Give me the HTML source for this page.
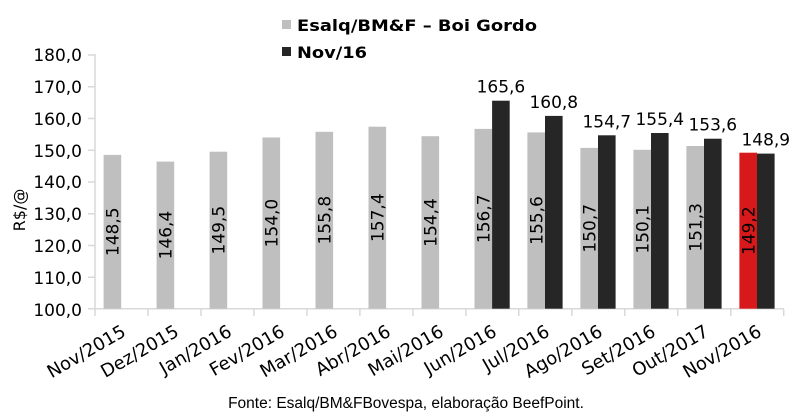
<!DOCTYPE html>
<html><head><meta charset="utf-8"><style>
body{margin:0;background:#fff;}
svg{display:block;font-family:"DejaVu Sans","Liberation Sans",sans-serif;}
</style></head><body>
<svg width="799" height="417" xmlns="http://www.w3.org/2000/svg">
<rect x="282" y="20" width="9" height="9" fill="#bfbfbf"/>
<text x="297" y="31" font-size="16" font-weight="bold" textLength="240" lengthAdjust="spacingAndGlyphs">Esalq/BM&amp;F – Boi Gordo</text>
<rect x="282" y="47" width="9" height="9" fill="#262626"/>
<text x="297" y="58" font-size="16" font-weight="bold" textLength="70" lengthAdjust="spacingAndGlyphs">Nov/16</text>
<text transform="translate(25,210) rotate(-90)" font-size="16" text-anchor="middle">R$/@</text>
<g font-size="17" text-anchor="end">
<text x="82" y="61">180,0</text><text x="82" y="93">170,0</text><text x="82" y="125">160,0</text><text x="82" y="157">150,0</text><text x="82" y="188">140,0</text><text x="82" y="220">130,0</text><text x="82" y="252">120,0</text><text x="82" y="284">110,0</text><text x="82" y="316">100,0</text>
</g>
<g stroke="#d9d9d9" stroke-width="1.5">
<line x1="95" y1="54" x2="95" y2="309"/><line x1="88" y1="308.7" x2="784" y2="308.7"/>
<line x1="88" y1="55" x2="95" y2="55"/><line x1="88" y1="86.8" x2="95" y2="86.8"/><line x1="88" y1="118.5" x2="95" y2="118.5"/><line x1="88" y1="150.3" x2="95" y2="150.3"/><line x1="88" y1="182" x2="95" y2="182"/><line x1="88" y1="213.8" x2="95" y2="213.8"/><line x1="88" y1="245.5" x2="95" y2="245.5"/><line x1="88" y1="277.3" x2="95" y2="277.3"/>
<line x1="95" y1="309" x2="95" y2="316"/><line x1="148" y1="309" x2="148" y2="316"/><line x1="201" y1="309" x2="201" y2="316"/><line x1="253.9" y1="309" x2="253.9" y2="316"/><line x1="306.9" y1="309" x2="306.9" y2="316"/><line x1="359.9" y1="309" x2="359.9" y2="316"/><line x1="412.9" y1="309" x2="412.9" y2="316"/><line x1="465.9" y1="309" x2="465.9" y2="316"/><line x1="518.8" y1="309" x2="518.8" y2="316"/><line x1="571.8" y1="309" x2="571.8" y2="316"/><line x1="624.8" y1="309" x2="624.8" y2="316"/><line x1="677.8" y1="309" x2="677.8" y2="316"/><line x1="730.8" y1="309" x2="730.8" y2="316"/><line x1="783.7" y1="309" x2="783.7" y2="316"/>
</g>
<g fill="#bfbfbf">
<rect x="103.6" y="154.9" width="17.6" height="153.8"/>
<rect x="156.6" y="161.6" width="17.6" height="147.1"/>
<rect x="209.6" y="151.7" width="17.6" height="157"/>
<rect x="262.5" y="137.5" width="17.6" height="171.2"/>
<rect x="315.5" y="131.8" width="17.6" height="176.9"/>
<rect x="368.5" y="126.7" width="17.6" height="182"/>
<rect x="421.5" y="136.2" width="17.6" height="172.5"/>
<rect x="474.5" y="128.9" width="17.6" height="179.8"/>
<rect x="527.4" y="132.4" width="17.6" height="176.3"/>
<rect x="580.4" y="147.9" width="17.6" height="160.8"/>
<rect x="633.4" y="149.8" width="17.6" height="158.9"/>
<rect x="686.4" y="146" width="17.6" height="162.7"/>
<rect x="739.4" y="152.7" width="17.6" height="156" fill="#d7191c"/>
</g>
<g fill="#262626">
<rect x="492.1" y="100.7" width="17.6" height="208"/>
<rect x="545" y="115.9" width="17.6" height="192.8"/>
<rect x="598" y="135.3" width="17.6" height="173.4"/>
<rect x="651" y="133" width="17.6" height="175.7"/>
<rect x="704" y="138.7" width="17.6" height="170"/>
<rect x="757" y="153.6" width="17.6" height="155.1"/>
</g>
<g font-size="17" text-anchor="middle">
<text transform="translate(118.6,231.8) rotate(-90)">148,5</text>
<text transform="translate(171.6,235.1) rotate(-90)">146,4</text>
<text transform="translate(224.6,230.2) rotate(-90)">149,5</text>
<text transform="translate(277.5,223.1) rotate(-90)">154,0</text>
<text transform="translate(330.5,220.2) rotate(-90)">155,8</text>
<text transform="translate(383.5,217.7) rotate(-90)">157,4</text>
<text transform="translate(436.5,222.5) rotate(-90)">154,4</text>
<text transform="translate(489.5,218.8) rotate(-90)">156,7</text>
<text transform="translate(542.4,220.5) rotate(-90)">155,6</text>
<text transform="translate(595.4,228.3) rotate(-90)">150,7</text>
<text transform="translate(648.4,229.3) rotate(-90)">150,1</text>
<text transform="translate(701.4,227.4) rotate(-90)">151,3</text>
<text transform="translate(754.4,230.7) rotate(-90)">149,2</text>
<text x="500.9" y="92.7">165,6</text>
<text x="553.8" y="107.9">160,8</text>
<text x="606.8" y="127.3">154,7</text>
<text x="659.8" y="125">155,4</text>
<text x="712.8" y="130.7">153,6</text>
<text x="765.8" y="145.6">148,9</text>
</g>
<g font-size="18" text-anchor="end">
<text transform="translate(127,335) rotate(-30)">Nov/2015</text>
<text transform="translate(180,335) rotate(-30)">Dez/2015</text>
<text transform="translate(233,335) rotate(-30)">Jan/2016</text>
<text transform="translate(285.9,335) rotate(-30)">Fev/2016</text>
<text transform="translate(338.9,335) rotate(-30)">Mar/2016</text>
<text transform="translate(391.9,335) rotate(-30)">Abr/2016</text>
<text transform="translate(444.9,335) rotate(-30)">Mai/2016</text>
<text transform="translate(497.9,335) rotate(-30)">Jun/2016</text>
<text transform="translate(550.8,335) rotate(-30)">Jul/2016</text>
<text transform="translate(603.8,335) rotate(-30)">Ago/2016</text>
<text transform="translate(656.8,335) rotate(-30)">Set/2016</text>
<text transform="translate(709.8,335) rotate(-30)">Out/2017</text>
<text transform="translate(762.8,335) rotate(-30)">Nov/2016</text>
</g>
<text x="406" y="408" font-family="Liberation Sans, sans-serif" font-size="15.5" text-anchor="middle">Fonte: Esalq/BM&amp;FBovespa, elaboração BeefPoint.</text>
</svg>
</body></html>
